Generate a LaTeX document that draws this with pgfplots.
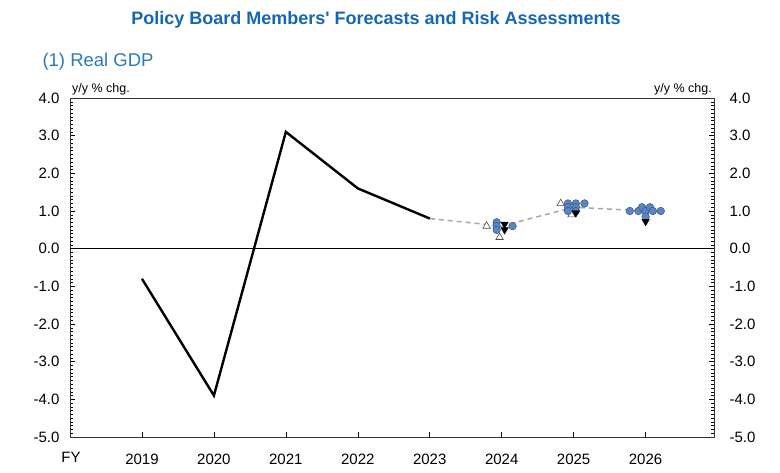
\documentclass[border=0pt]{standalone}
\usepackage{pgfplots}
\pgfplotsset{compat=1.18}
\usepackage{fontspec}
\setmainfont{Liberation Sans}
\definecolor{ttl}{HTML}{1667B2}
\definecolor{sub}{HTML}{2A7AB9}
\definecolor{dotf}{HTML}{5B86C2}
\definecolor{dote}{HTML}{34558A}
\definecolor{dashgray}{HTML}{A6A6A6}
\newcommand{\apos}{\XeTeXglyph\XeTeXcharglyph"27\relax}
\begin{document}
\begin{tikzpicture}[x=1pt,y=1pt]
\path[use as bounding box] (0,0) rectangle (780,473);
\node[font=\fontsize{18}{20}\selectfont\bfseries, text=ttl] at (376,453) {Policy Board Members\apos{} Forecasts and Risk Assessments};
\node[font=\fontsize{18.5}{20}\selectfont, text=sub, anchor=west] at (39,411) {(1) Real GDP};
\node[font=\fontsize{15}{17}\selectfont] at (71,16) {FY};
\node[font=\fontsize{12.5}{14}\selectfont, anchor=base west, inner sep=0] at (72,380) {y/y \% chg.};
\node[font=\fontsize{12.5}{14}\selectfont, anchor=base east, inner sep=0] at (712,380) {y/y \% chg.};
\begin{axis}[
  at={(70pt,36pt)}, anchor=south west,
  width=644pt, height=339pt, scale only axis,
  xmin=2018, xmax=2026.95, ymin=-5, ymax=4,
  xtick={2019,...,2026},
  xticklabels={2019,2020,2021,2022,2023,2024,2025,2026},
  ytick={-5,-4,...,4},
  minor y tick num=9,
  tick align=inside,
  xtick pos=bottom,
  ytick pos=both,
  yticklabel pos=left,
  major tick length=5pt, minor tick length=3.5pt,
  tick style={black, line width=0.5pt},
  axis line style={line width=0.8pt, black!80},
  /pgf/number format/assume math mode=true,
  yticklabel={\pgfmathprintnumber[fixed,fixed zerofill,precision=1]{\tick}},
  ticklabel style={font=\fontsize{15}{17}\selectfont},
  xticklabel style={yshift=-13pt},
  yticklabel style={xshift=-7pt},
  clip=false,
]
\draw[black, line width=1pt] (axis cs:2018,0) -- (axis cs:2026.95,0);
\addplot[dashgray, line width=1.5pt, dash pattern=on 5pt off 4pt, no markers] coordinates {(2023,0.8) (2024,0.6) (2025,1.1) (2026,1.0)};
\addplot[black, line width=2.4pt, no markers] coordinates {(2019,-0.8) (2020,-3.9) (2021,3.1) (2022,1.6) (2023,0.8)};
% open up triangles
\addplot[only marks, mark=triangle*, mark size=4.3pt, mark options={fill=white, draw=black!70, line width=0.6pt}] coordinates {(2023.79,0.6) (2023.97,0.3) (2024.82,1.2) (2024.97,0.9)};
% circles
\addplot[only marks, mark=*, mark size=3.8pt, mark options={fill=dotf, draw=dote, line width=0.5pt}] coordinates {
(2023.93,0.7) (2023.93,0.6) (2023.93,0.5) (2024.15,0.6)
(2024.92,1.2) (2024.92,1.1) (2024.92,1.0) (2025.03,1.2) (2025.03,1.1) (2025.03,1.0) (2025.15,1.2)
(2025.78,1.0) (2025.9,1.0) (2025.95,1.1) (2026.0,1.0) (2026.06,1.1) (2026.1,1.0) (2026.21,1.0) (2026.0,0.85)};
% black down triangles
\addplot[only marks, mark=triangle*, mark size=4.3pt, mark options={rotate=180, fill=black, draw=black}] coordinates {(2024.04,0.65) (2024.04,0.5) (2025.03,0.95) (2026.0,0.72)};
\end{axis}
\begin{axis}[
  at={(70pt,36pt)}, anchor=south west,
  width=644pt, height=339pt, scale only axis,
  xmin=2018, xmax=2026.95, ymin=-5, ymax=4,
  axis x line=none, axis y line*=right,
  ytick={-5,-4,...,4},
  major tick length=0pt,
  axis line style={draw=none},
  /pgf/number format/assume math mode=true,
  yticklabel={\pgfmathprintnumber[fixed,fixed zerofill,precision=1]{\tick}},
  ticklabel style={font=\fontsize{15}{17}\selectfont},
  yticklabel style={xshift=12pt},
]
\end{axis}
\end{tikzpicture}
\end{document}
